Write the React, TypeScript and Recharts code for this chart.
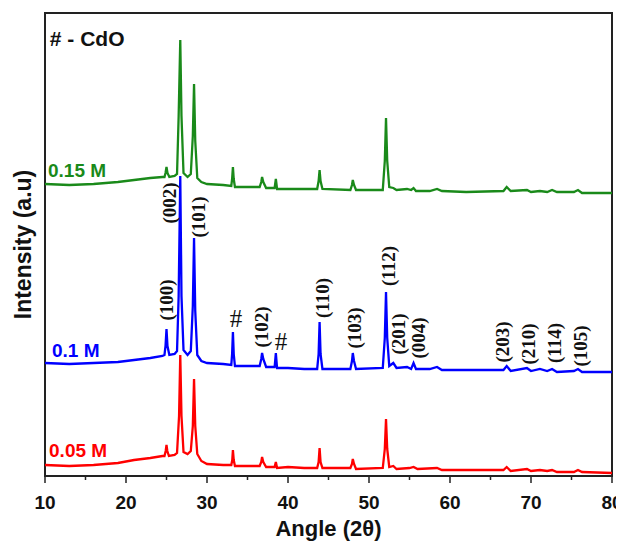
import React from "react"
import { LineChart, Line, XAxis, YAxis, ReferenceArea, ReferenceDot, Label } from "recharts"

// [angle 2θ, intensity a.u.] — patterns stacked with an offset, as in the figure
const sample005: [number, number][] = [
  [10, 11], [13, 10], [16, 11], [19, 13], [21, 16], [23, 18], [24.5, 20], [24.75, 20], [24.9, 25], [25.0, 31],
  [25.1, 25], [25.3, 20], [26.0, 21], [26.3, 23], [26.55, 60], [26.7, 121], [26.85, 60], [27.1, 24], [27.6, 22],
  [28.0, 25], [28.25, 50], [28.4, 97], [28.55, 50], [28.8, 22], [29.3, 15], [30, 12], [32, 11], [33.0, 11],
  [33.12, 16], [33.2, 26], [33.3, 16], [33.45, 10], [35, 10], [36.5, 10], [36.7, 14], [36.8, 19], [36.95, 14],
  [37.3, 9], [38.35, 9], [38.5, 14], [38.65, 8], [40, 9], [42, 8], [43.6, 8], [43.78, 14], [43.9, 28], [44.02, 14],
  [44.25, 8], [47.7, 8], [47.9, 12], [48.0, 17], [48.15, 12], [48.4, 7], [51.7, 8], [51.95, 27], [52.1, 57],
  [52.25, 27], [52.5, 9], [53.0, 10], [53.4, 7], [55.0, 8], [55.5, 9], [56.0, 7], [58.4, 8], [59, 6], [62, 6],
  [66.6, 6], [67.0, 9], [67.5, 5], [69.5, 7], [70, 5], [71.1, 6], [72, 5], [72.6, 6], [73.2, 4], [75.3, 4],
  [75.8, 6], [76.3, 4], [80, 3],
]

const sample01: [number, number][] = [
  [10, 113], [13, 112], [16, 113], [19, 114], [21, 116], [23, 118], [24.5, 120], [24.75, 121], [24.88, 130],
  [25.0, 147], [25.12, 130], [25.35, 121], [26.0, 122], [26.3, 125], [26.5, 180], [26.7, 300], [26.85, 180],
  [27.1, 126], [27.6, 121], [28.0, 125], [28.25, 170], [28.4, 238], [28.55, 165], [28.8, 121], [29.3, 115],
  [30, 113], [32, 112], [33.0, 111], [33.1, 122], [33.2, 144], [33.3, 122], [33.45, 110], [35, 110], [36.5, 110],
  [36.7, 117], [36.8, 123], [36.95, 117], [37.3, 109], [38.35, 109], [38.5, 123], [38.65, 108], [40, 108],
  [42, 107], [43.6, 107], [43.78, 122], [43.9, 154], [44.02, 122], [44.25, 107], [47.7, 107], [47.9, 115],
  [48.0, 123], [48.15, 115], [48.4, 107], [51.7, 108], [51.95, 138], [52.1, 184], [52.25, 138], [52.5, 110],
  [53.0, 113], [53.4, 108], [54.7, 109], [55.2, 107], [55.5, 113], [55.8, 107], [57.5, 107], [58.4, 109],
  [59, 106], [62, 106], [66.6, 106], [67.0, 110], [67.5, 105], [69.5, 108], [70, 105], [71.1, 107], [72, 105],
  [72.6, 107], [73.2, 104], [75.3, 105], [75.8, 107], [76.3, 104], [80, 104],
]

const sample015: [number, number][] = [
  [10, 292], [13, 291], [16, 292], [19, 294], [21, 296], [23, 298], [24.5, 299], [24.75, 299], [24.88, 303],
  [25.0, 309], [25.12, 303], [25.35, 299], [26.0, 300], [26.3, 302], [26.5, 360], [26.7, 436], [26.85, 360],
  [27.1, 303], [27.6, 299], [28.0, 302], [28.25, 340], [28.4, 392], [28.55, 335], [28.8, 298], [29.3, 294],
  [30, 292], [32, 291], [33.0, 290], [33.1, 297], [33.2, 309], [33.3, 297], [33.45, 289], [35, 289], [36.5, 289],
  [36.7, 294], [36.8, 299], [36.95, 294], [37.3, 288], [38.35, 288], [38.5, 297], [38.65, 287], [40, 287],
  [42, 287], [43.6, 287], [43.78, 295], [43.9, 306], [44.02, 295], [44.25, 287], [47.7, 286], [47.9, 291],
  [48.0, 296], [48.15, 291], [48.4, 286], [51.7, 286], [51.95, 315], [52.1, 358], [52.25, 315], [52.5, 289],
  [53.0, 288], [53.4, 286], [54.7, 287], [55.2, 286], [55.5, 288], [55.8, 285], [57.5, 285], [58.4, 287],
  [59, 285], [62, 284], [66.6, 285], [67.0, 289], [67.5, 285], [69.5, 286], [70, 284], [71.1, 285], [72, 284],
  [72.6, 286], [73.2, 284], [75.3, 284], [75.8, 286], [76.3, 283], [80, 283],
]

const xTicks = [10, 15, 20, 25, 30, 35, 40, 45, 50, 55, 60, 65, 70, 75, 80]

// hkl labels (rotated) and CdO marks, placed at [angle, level]
const planes: [number, number, string][] = [
  [25.06, 176, "(100)"], [25.43, 273, "(002)"], [28.89, 259, "(101)"], [36.79, 149, "(102)"],
  [44.2, 178, "(110)"], [48.27, 148, "(103)"], [52.35, 210, "(112)"], [53.7, 142, "(201)"],
  [56.05, 138, "(004)"], [66.54, 134, "(203)"], [69.63, 132, "(210)"], [72.96, 133, "(114)"],
  [76.05, 130, "(105)"],
]
const cdoMarks: [number, number][] = [[33.58, 158], [39.14, 135]]

const seriesNames: [number, number, string, string][] = [
  [10.37, 306, "0.15 M", "#1a8a1a"],
  [10.86, 126, "0.1 M", "#0000ff"],
  [10.5, 26, "0.05 M", "#ff0000"],
]

const toRows = (pts: [number, number][]) => pts.map(([a, v]) => ({ a, v }))

const sans = "'Liberation Sans', Arial, sans-serif"
const serif = "'Liberation Serif', 'Times New Roman', serif"

function AngleTick(props: any) {
  const { x, y, payload } = props
  const major = payload.value % 10 === 0
  return (
    <g>
      <line x1={x} y1={y} x2={x} y2={y + (major ? 7 : 4)} stroke="#222" strokeWidth={1.5} />
      {major && (
        <text x={x} y={y + 26} textAnchor="middle" dominantBaseline="central"
          fontFamily={sans} fontWeight="bold" fontSize={19} fill="#111">
          {payload.value}
        </text>
      )}
    </g>
  )
}

const rotated = (text: string) => (p: any) => {
  const { x, y } = p.viewBox
  return (
    <text x={x} y={y} transform={`rotate(-90 ${x} ${y})`} textAnchor="middle" dominantBaseline="central"
      fontFamily={serif} fontWeight="bold" fontSize={19} fill="#111">
      {text}
    </text>
  )
}

const plain = (text: string, color: string, size: number, family: string, bold = true, anchor = "start") => (p: any) => {
  const { x, y } = p.viewBox
  return (
    <text x={x} y={y} textAnchor={anchor} dominantBaseline="central"
      fontFamily={family} fontWeight={bold ? "bold" : "normal"} fontSize={size} fill={color}>
      {text}
    </text>
  )
}

export default function App() {
  return (
    <LineChart width={616} height={533} margin={{ top: 5, right: 12, bottom: 25, left: 0 }}>
      <XAxis dataKey="a" type="number" domain={[10, 80]} ticks={xTicks} interval={0} allowDataOverflow
        axisLine={false} tickLine={false} tickSize={0} tickMargin={0} height={40} tick={<AngleTick />}
        label={<Label content={(p: any) => (
          <text x={p.viewBox.x + p.viewBox.width / 2} y={p.viewBox.y + 52} textAnchor="middle"
            dominantBaseline="central" fontFamily={sans} fontWeight="bold" fontSize={22} fill="#111">
            Angle (2θ)
          </text>
        )} />} />
      <YAxis type="number" domain={[0, 463]} width={37} axisLine={false} tickLine={false} tick={false}
        label={<Label content={(p: any) => {
          const cx = p.viewBox.x + 15
          const cy = p.viewBox.y + p.viewBox.height / 2
          return (
            <text x={cx} y={cy} transform={`rotate(-90 ${cx} ${cy})`} textAnchor="middle"
              dominantBaseline="central" fontFamily={sans} fontWeight="bold" fontSize={23} fill="#111">
              Intensity (a.u)
            </text>
          )
        }} />} />
      <ReferenceArea x1={10} x2={80} y1={0} y2={463} fill="none" stroke="#222" strokeWidth={2} />
      <Line data={toRows(sample005)} dataKey="v" stroke="#ff0000" strokeWidth={2.3} dot={false} type="linear" isAnimationActive={false} />
      <Line data={toRows(sample015)} dataKey="v" stroke="#1a8a1a" strokeWidth={2.3} dot={false} type="linear" isAnimationActive={false} />
      <Line data={toRows(sample01)} dataKey="v" stroke="#0000ff" strokeWidth={2.3} dot={false} type="linear" isAnimationActive={false} />
      {planes.map(([a, lvl, t]) => (
        <ReferenceDot key={t} x={a} y={lvl} r={0} fill="none" stroke="none" label={rotated(t)} />
      ))}
      {cdoMarks.map(([a, lvl], i) => (
        <ReferenceDot key={"cdo" + i} x={a} y={lvl} r={0} fill="none" stroke="none"
          label={plain("#", "#111", 25, serif, false, "middle")} />
      ))}
      {seriesNames.map(([a, lvl, t, c]) => (
        <ReferenceDot key={t} x={a} y={lvl} r={0} fill="none" stroke="none" label={plain(t, c, 19, sans)} />
      ))}
      <ReferenceDot x={10.6} y={438} r={0} fill="none" stroke="none" label={plain("# - CdO", "#111", 21, sans)} />
    </LineChart>
  )
}
